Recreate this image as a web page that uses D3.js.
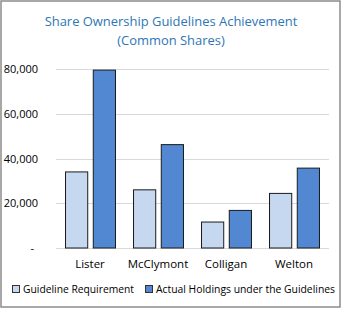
<!DOCTYPE html>
<html>
<head>
<meta charset="utf-8">
<script src="https://cdn.jsdelivr.net/npm/d3@7"></script>
<style>
  body { margin: 0; background: #fff; }
  text { font-family: "Open Sans", "Noto Sans", sans-serif; fill: #000; }
  .title { fill: #2e75b6; font-size: 13px; }
  .tick text { font-size: 11px; }
  .catLabel { font-size: 11.5px; }
  .legend text { font-size: 11.5px; }
</style>
</head>
<body>
<div id="chart"></div>
<script>
// data
var categories = ["Lister", "McClymont", "Colligan", "Welton"];
var seriesNames = ["Guideline Requirement", "Actual Holdings under the Guidelines"];
var guidelineValues = [34000, 26000, 11600, 24400];
var actualValues = [79500, 46200, 16800, 35700];
var yTicks = [0, 20000, 40000, 60000, 80000];

var colours = ["#c6d8f0", "#5288d2"];

var width = 343, height = 309;
const margin = { top: 69, right: 15, bottom: 61, left: 56 };

var svg = d3.select("#chart").append("svg").attr("width", width).attr("height", height);

// shrink a text's font until it fits the width seen in the reference
const fitText = function (sel, target, size) {
    sel.style("font-size", size + "px");
    let w = sel.node().getComputedTextLength();
    if (w > target) sel.style("font-size", (size * target / w).toFixed(2) + "px");
};

// outer frame
svg.append("rect").attr("x", 1).attr("y", 1).attr("width", 339).attr("height", 306)
    .style("fill", "#fff").style("stroke", "#8c8c8c").style("stroke-width", 1.5);

let title1 = svg.append("text").attr("class", "title").attr("x", 171).attr("y", 26).style("text-anchor", "middle")
    .text("Share Ownership Guidelines Achievement").call(fitText, 253, 13);
svg.append("text").attr("class", "title").attr("x", 171).attr("y", 45).style("text-anchor", "middle")
    .style("font-size", title1.style("font-size")).text("(Common Shares)");

let data = categories.map((c, i) => ({ name: c, values: [guidelineValues[i], actualValues[i]] }));

let x0 = d3.scaleBand().domain(categories).range([margin.left, width - margin.right]).padding(0);
let x1 = d3.scaleBand().domain([0, 1]).range([0, x0.bandwidth()]).paddingInner(0.2).paddingOuter(0.325);
let y = d3.scaleLinear().domain([0, 80000]).range([height - margin.bottom, margin.top]);

// gridlines
svg.append("g").selectAll("line.grid").data(yTicks).enter().append("line").attr("class", "grid")
    .attr("x1", margin.left).attr("x2", width - margin.right + 1)
    .attr("y1", d => Math.round(y(d)) + 0.5).attr("y2", d => Math.round(y(d)) + 0.5)
    .style("stroke", "#d9d9d9").style("stroke-width", 1);

let yAxis = d3.axisLeft(y).tickValues(yTicks).tickSize(0).tickPadding(0)
    .tickFormat(d => d == 0 ? "-" : d3.format(",")(d));
let gy = svg.append("g").attr("class", "axis yAxis").attr("transform", `translate(38, 0)`).call(yAxis);
gy.select(".domain").remove();
gy.selectAll(".tick text").attr("dx", d => d == 0 ? -4 : 0);

let groups = svg.selectAll("g.group").data(data).enter().append("g").attr("class", "group")
    .attr("transform", d => `translate(${x0(d.name)}, 0)`);

groups.selectAll("rect.bar").data(d => d.values.map((v, k) => ({ k: k, v: v }))).enter().append("rect")
    .attr("class", "bar")
    .attr("x", d => x1(d.k) + 0.5)
    .attr("width", x1.bandwidth())
    .attr("y", d => y(d.v))
    .attr("height", d => y(0) - y(d.v))
    .style("fill", d => colours[d.k])
    .style("stroke", "#1a1a1a").style("stroke-width", 1);

svg.selectAll("text.catLabel").data(categories).enter().append("text").attr("class", "catLabel")
    .attr("x", d => x0(d) + x0.bandwidth() / 2).attr("y", 268).style("text-anchor", "middle").text(d => d);

// legend
let legend = svg.append("g").attr("class", "legend");
let legendX = [12, 145];
let legendLen = [111, 179];
seriesNames.forEach((s, k) => {
    legend.append("rect").attr("x", legendX[k] + 0.5).attr("y", 285.5).attr("width", 7).attr("height", 7)
        .style("fill", colours[k]).style("stroke", "#333").style("stroke-width", 1);
    legend.append("text").attr("x", legendX[k] + 11).attr("y", 293).text(s).call(fitText, legendLen[k], 11.5);
});
</script>
</body>
</html>
